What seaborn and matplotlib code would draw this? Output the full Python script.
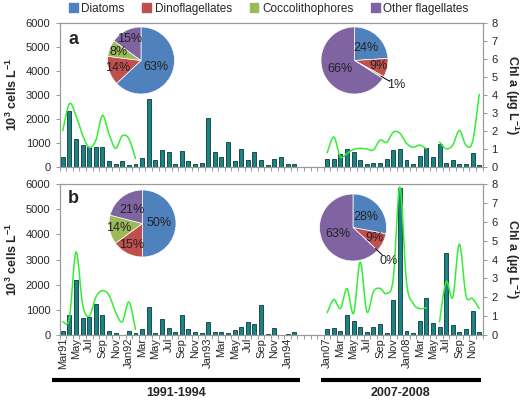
import numpy as np
import pandas as pd
import matplotlib
matplotlib.use('Agg')
import matplotlib.pyplot as plt
import seaborn as sns

# ---------------------------------------------------------
# Data
# ---------------------------------------------------------
months_9194 = [p.strftime('%Y-%m') for p in pd.period_range('1991-03', '1994-02', freq='M')]
gap_slots = ['gap1', 'gap2', 'gap3', 'gap4']
months_0708 = [p.strftime('%Y-%m') for p in pd.period_range('2007-01', '2008-12', freq='M')]
order = months_9194 + gap_slots + months_0708

tick_labels = ['Mar91', 'May', 'Jul', 'Sep', 'Nov', 'Jan92', 'Mar', 'May', 'Jul', 'Sep', 'Nov',
               'Jan93', 'Mar', 'May', 'Jul', 'Sep', 'Nov', 'Jan94',
               'Jan07', 'Mar', 'May', 'Jul', 'Sep', 'Nov', 'Jan08', 'Mar', 'May', 'Jul', 'Sep', 'Nov']

# 10^3 cells L-1, panel a
cells_a_9194 = [417, 2333, 1142, 904, 808, 833, 833, 250, 100, 250, 58, 100, 362, 2820, 280, 690,
                625, 110, 640, 250, 110, 140, 2020, 625, 420, 1040, 240, 750, 290, 600, 260, 70,
                305, 400, 120, 100]
cells_a_0708 = [340, 310, 520, 750, 625, 285, 115, 165, 137, 308, 695, 750, 285, 115, 450, 775,
                410, 930, 150, 285, 110, 110, 560, 60]
# panel b
cells_b_9194 = [173, 800, 2200, 667, 707, 1227, 800, 173, 67, 13, 147, 67, 227, 1107, 67, 627,
                267, 133, 800, 240, 133, 93, 507, 133, 107, 67, 200, 333, 507, 440, 1200, 50,
                263, 10, 50, 130]
cells_b_0708 = [240, 290, 172, 795, 570, 305, 106, 331, 437, 93, 1390, 5850, 160, 66, 570, 1457,
                490, 331, 3245, 384, 132, 252, 954, 106]

# Chl a (ug L-1): Mar91-Feb92 and Jan07-Dec08 (May08 missing)
chl_a_9192 = [2.0, 3.5, 2.85, 1.75, 1.07, 1.47, 2.85, 1.8, 1.02, 1.72, 1.55, 0.46]
chl_a_0708 = [0.77, 1.65, 0.55, 0.74, 0.96, 1.02, 0.98, 0.93, 1.48, 1.35, 1.92, 1.86, 1.3, 1.08,
              1.2, 1.0, np.nan, 1.37, 1.0, 1.2, 2.01, 1.19, 1.4, 4.02]
chl_b_9192 = [0.7, 0.9, 4.4, 1.6, 1.0, 2.0, 2.35, 2.1, 1.2, 0.7, 1.75, 0.3]
chl_b_0708 = [1.18, 1.88, 1.4, 2.46, 1.15, 3.86, 1.23, 2.3, 2.47, 2.2, 3.0, 7.84, 2.8, 1.68,
              1.4, 1.45, np.nan, 0.7, 2.83, 2.0, 4.82, 2.1, 1.93, 1.4]

groups = ['Diatoms', 'Dinoflagellates', 'Coccolithophores', 'Other flagellates']
pie_a_9194 = [63, 14, 8, 15]
pie_a_0708 = [24, 9, 1, 66]
pie_b_9194 = [50, 15, 14, 21]
pie_b_0708 = [28, 9, 0, 63]

pie_colors = ['#4F81BD', '#C0504D', '#9BBB59', '#8064A2']
BAR = '#1b8383'
EDGE = '#0a3a3a'
LINE = '#33ee33'

sns.set_style('ticks')
plt.rcParams['font.family'] = ['Liberation Sans', 'DejaVu Sans']
plt.rcParams['mathtext.fontset'] = 'custom'
plt.rcParams['mathtext.rm'] = 'Liberation Sans'
plt.rcParams['mathtext.bf'] = 'Liberation Sans:bold'


def smooth(xs, ys, n=16):
    # Excel-like smoothed line (Bezier through points)
    xs = np.asarray(xs, float)
    ys = np.asarray(ys, float)
    px = np.r_[xs[0], xs, xs[-1]]
    py = np.r_[ys[0], ys, ys[-1]]
    t = np.linspace(0, 1, n)
    ox, oy = [], []
    for i in range(1, len(px) - 2):
        p0 = np.array([px[i - 1], py[i - 1]])
        p1 = np.array([px[i], py[i]])
        p2 = np.array([px[i + 1], py[i + 1]])
        p3 = np.array([px[i + 2], py[i + 2]])
        c1 = p1 + (p2 - p0) / 6
        c2 = p2 - (p3 - p1) / 6
        b = ((1 - t) ** 3)[:, None] * p1 + (3 * (1 - t) ** 2 * t)[:, None] * c1 \
            + (3 * (1 - t) * t ** 2)[:, None] * c2 + (t ** 3)[:, None] * p2
        ox.extend(b[:, 0])
        oy.extend(b[:, 1])
    return ox, oy


def draw_chl(ax2, start, values):
    vals = np.asarray(values, float)
    idx = np.arange(start, start + len(vals))
    ok = ~np.isnan(vals)
    # split into runs without gaps
    runs, cur = [], []
    for i, v in zip(idx, ok):
        if v:
            cur.append(i)
        elif cur:
            runs.append(cur)
            cur = []
    if cur:
        runs.append(cur)
    for r in runs:
        sx, sy = smooth(r, vals[np.array(r) - start])
        ax2.plot(sx, sy, color=LINE, lw=1.1)


def draw_pie(fig, cx, cy, vals, r=33.5):
    L = 1.3
    S = 2 * L * r
    pax = fig.add_axes([(cx - S / 2) / 520, 1 - (cy + S / 2) / 400, S / 520, S / 400])
    wedges, _ = pax.pie(vals, colors=pie_colors, startangle=90, counterclock=False,
                        wedgeprops=dict(edgecolor='white', linewidth=0.5))
    for w, v in zip(wedges, vals):
        a = np.deg2rad((w.theta1 + w.theta2) / 2)
        if v <= 1:
            pax.plot([0.92 * np.cos(a), 1.22 * np.cos(a)], [0.92 * np.sin(a), 1.22 * np.sin(a)],
                     color='black', lw=0.7)
            pax.text(1.45 * np.cos(a), 1.45 * np.sin(a), f'{v}%', ha='center', va='center',
                     fontsize=9)
        else:
            d = 0.5 if v > 20 else 0.72
            pax.text(d * np.cos(a), d * np.sin(a), f'{v}%', ha='center', va='center',
                     fontsize=9, color='#222222')
    pax.set_xlim(-L, L)
    pax.set_ylim(-L, L)
    pax.set_aspect('equal')
    pax.axis('off')


fig = plt.figure(figsize=(5.2, 4.0), dpi=100)
ax_a = fig.add_axes([59.5 / 520, 1 - 166.7 / 400, 423 / 520, 144 / 400])
ax_b = fig.add_axes([59.5 / 520, 1 - 335 / 400, 423 / 520, 151 / 400])

label_pos = list(range(0, 36, 2)) + list(range(40, 64, 2))

panels = [
    (ax_a, cells_a_9194, cells_a_0708, chl_a_9192, chl_a_0708, 'a', 0.88),
    (ax_b, cells_b_9194, cells_b_0708, chl_b_9192, chl_b_0708, 'b', 0.905),
]
for ax, c1, c2, ch1, ch2, letter, ly in panels:
    df = pd.DataFrame({'month': months_9194 + months_0708, 'cells': c1 + c2})
    sns.barplot(data=df, x='month', y='cells', order=order, color=BAR, saturation=1,
                edgecolor=EDGE, linewidth=0.6, width=0.6, errorbar=None, ax=ax)
    ax.set_xlim(-0.5, 63.5)
    ax.set_ylim(0, 6000)
    ax.set_yticks(range(0, 6001, 1000))
    ax.set_xlabel('')
    ax.set_ylabel('10$^{\\mathbf{3}}$ cells L$^{\\mathbf{-1}}$', fontsize=9, fontweight='bold')
    ax.yaxis.set_label_coords(-0.112, 0.5)
    ax.yaxis.label.set_va('center')
    ax.set_xticks(np.arange(-0.5, 64, 1), minor=True)
    ax.set_xticks(label_pos)
    if letter == 'b':
        ax.set_xticklabels(tick_labels, rotation=90, fontsize=8)
    else:
        ax.set_xticklabels([])
    ax.tick_params(axis='x', which='major', length=0, pad=2)
    ax.tick_params(axis='x', which='minor', length=3, direction='out', color='#888888', width=0.6)
    ax.tick_params(axis='y', length=3, direction='out', labelsize=8, color='#888888', width=0.6)
    for s in ax.spines.values():
        s.set_visible(True)
        s.set_color('#999999')
        s.set_linewidth(0.8)
    ax.text(0.032, ly, letter, transform=ax.transAxes, fontsize=13, fontweight='bold',
            ha='center', va='center')

    ax2 = ax.twinx()
    draw_chl(ax2, 0, ch1)
    draw_chl(ax2, 40, ch2)
    ax2.set_ylim(0, 8)
    ax2.set_yticks(range(0, 9))
    ax2.tick_params(axis='y', length=3, direction='out', labelsize=8, color='#888888', width=0.6)
    ax2.set_ylabel('Chl a (µg L$^{\\mathbf{-1}}$)', fontsize=9, fontweight='bold', rotation=270)
    ax2.yaxis.set_label_coords(1.07, 0.5)
    ax2.yaxis.label.set_va('center')
    for s in ax2.spines.values():
        s.set_color('#999999')
        s.set_linewidth(0.8)

# pies
draw_pie(fig, 141, 60.5, pie_a_9194)
draw_pie(fig, 354.5, 60.5, pie_a_0708)
draw_pie(fig, 142.5, 223.5, pie_b_9194)
draw_pie(fig, 353, 227.5, pie_b_0708)

# legend
handles = [plt.Rectangle((0, 0), 1, 1, color=c) for c in pie_colors]
fig.legend(handles, groups, loc='center', bbox_to_anchor=(0.517, 0.978), ncol=4, frameon=False,
           fontsize=8.5, handlelength=0.75, handleheight=0.75, handletextpad=0.3,
           columnspacing=1.5)

# period bars below the bottom panel
trans = ax_b.get_xaxis_transform()
for x0, x1, txt in [(-1.7, 35.9, '1991-1994'), (39.1, 63.2, '2007-2008')]:
    ax_b.plot([x0, x1], [-0.298, -0.298], color='black', lw=3, transform=trans, clip_on=False,
              solid_capstyle='butt')
    ax_b.text((x0 + x1) / 2, -0.385, txt, transform=trans, ha='center', va='center',
              fontsize=9, fontweight='bold')

fig.savefig('out.png', dpi=100)
